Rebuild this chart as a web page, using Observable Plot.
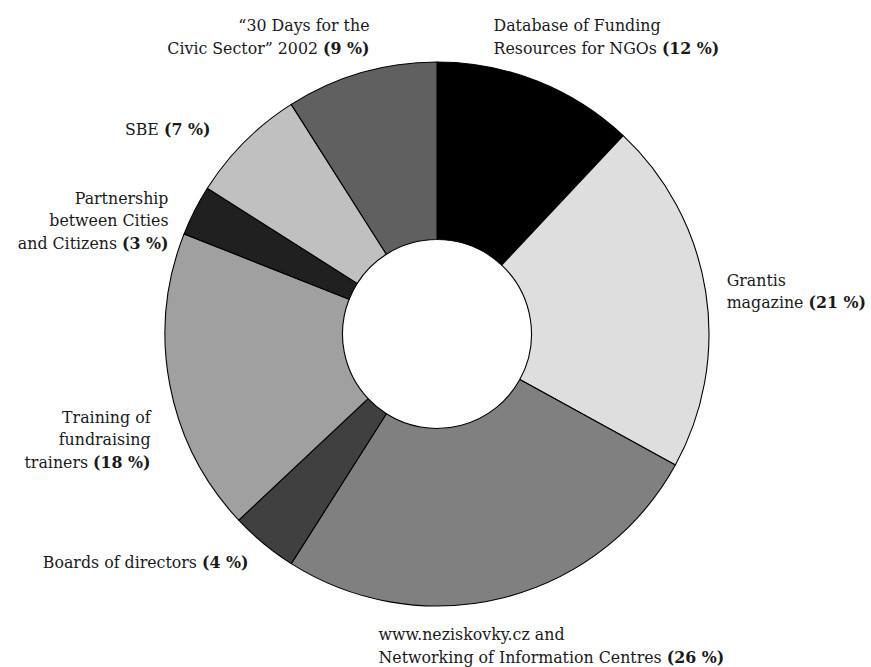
<!DOCTYPE html>
<html><head><meta charset="utf-8">
<script src="https://cdn.jsdelivr.net/npm/d3@7"></script>
<script src="https://cdn.jsdelivr.net/npm/@observablehq/plot@0.6"></script>
<style>body{margin:0;background:#fff}</style>
</head><body><div id="chart"></div>
<script>
const categories = ["Database of Funding Resources for NGOs","Grantis magazine","www.neziskovky.cz and Networking of Information Centres","Boards of directors","Training of fundraising trainers","Partnership between Cities and Citizens","SBE","“30 Days for the Civic Sector” 2002"];
const values = [12,21,26,4,18,3,7,9];
const labelLines = [
  "Database of Funding\nResources for NGOs (12 %)",
  "Grantis\nmagazine (21 %)",
  "www.neziskovky.cz and\nNetworking of Information Centres (26 %)",
  "Boards of directors (4 %)",
  "Training of\nfundraising\ntrainers (18 %)",
  "Partnership\nbetween Cities\nand Citizens (3 %)",
  "SBE (7 %)",
  "“30 Days for the\nCivic Sector” 2002 (9 %)"
];
const colors = ["#000000","#dedede","#808080","#404040","#a0a0a0","#202020","#c0c0c0","#606060"];
// label layout (radius units relative to centre; y = baseline of last line)
const labelX = [0.206,1.063,-0.217,-0.695,-1.055,-0.989,-0.835,-0.250];
const labelY = [1.033,0.096,-1.206,-0.857,-0.489,0.316,0.732,1.033];
const labelAnchor = ["start","start","start","end","end","end","end","end"];

const innerRatio = 94.5/272;
const data = categories.map((c,i)=>({category:c, value:values[i], color:colors[i], label:labelLines[i], lx:labelX[i], ly:labelY[i], anchor:labelAnchor[i]}));

const pie = d3.pie().value(d=>d.value).sort(null).startAngle(0).endAngle(2*Math.PI);
const arcs = pie(data);

function slices(index, scales) {
  const cx = scales.x(0), cy = scales.y(0);
  const r = scales.x(1) - scales.x(0);
  const arc = d3.arc().innerRadius(r*innerRatio).outerRadius(r);
  const g = d3.create("svg:g").attr("transform", `translate(${cx},${cy})`);
  g.selectAll("path").data(arcs).join("path")
    .attr("d", arc).attr("fill", d=>d.data.color)
    .attr("stroke", "#000").attr("stroke-width", 1.1).attr("stroke-linejoin","round");
  return g.node();
}

const fs = 15.8;
const textOpts = (anchor)=>({
  x:"lx", y:"ly", text:"label", textAnchor:anchor, lineAnchor:"bottom",
  lineHeight: 22.5/fs, fontSize: fs, fill:"#1a1a1a"
});

const plot = Plot.plot({
  width: 871, height: 667, margin: 0,
  x: {domain:[-437/272, 434/272], range:[0,871], axis:null},
  y: {domain:[334/272, -333/272], range:[0,667], axis:null},
  style: {fontFamily:"'DejaVu Serif', serif", background:"#fff"},
  marks: [
    slices,
    Plot.text(data.filter(d=>d.anchor==="start"), textOpts("start")),
    Plot.text(data.filter(d=>d.anchor==="end"), textOpts("end"))
  ]
});
// bold the percentage part
plot.querySelectorAll("text").forEach(t=>{
  const parts = t.querySelectorAll("tspan").length ? t.querySelectorAll("tspan") : [t];
  parts.forEach(sp=>{
    const s = sp.textContent; const m = s.match(/^(.*?)(\(\d+ %\))$/);
    if (!m) return;
    sp.textContent = m[1];
    const b = document.createElementNS("http://www.w3.org/2000/svg","tspan");
    b.setAttribute("font-weight","bold"); b.textContent = m[2];
    sp.appendChild(b);
  });
});
document.getElementById("chart").appendChild(plot);
</script></body></html>
